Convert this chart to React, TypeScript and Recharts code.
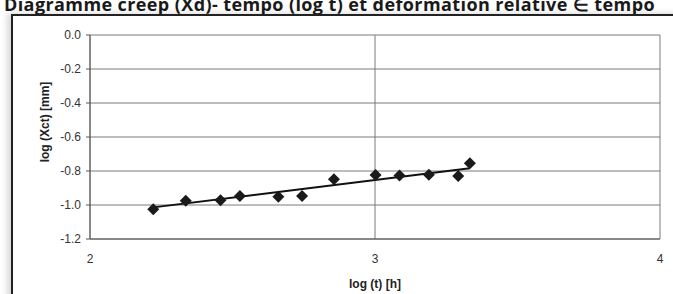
import React from "react";
import {
  ScatterChart,
  Scatter,
  XAxis,
  YAxis,
  CartesianGrid,
} from "recharts";

// measured points: log(t) [h] vs log(Xct) [mm]
const logT = [2.222, 2.336, 2.458, 2.526, 2.661, 2.744, 2.856, 3.002, 3.086, 3.189, 3.292, 3.333];
const logX = [-1.025, -0.975, -0.972, -0.947, -0.951, -0.947, -0.849, -0.824, -0.827, -0.822, -0.829, -0.755];

// trend line end points
const trendT = [2.222, 3.333];
const trendX = [-1.014, -0.784];

const xTicks = [2, 3, 4];
const yTicks = [-1.2, -1.0, -0.8, -0.6, -0.4, -0.2, 0.0];

const points = logT.map((t, i) => ({ t, x: logX[i] }));
const trend = trendT.map((t, i) => ({ t, x: trendX[i] }));

const Diamond = (props: any) => {
  const { cx, cy } = props;
  const r = 6;
  return (
    <polygon
      points={`${cx},${cy - r} ${cx + r},${cy} ${cx},${cy + r} ${cx - r},${cy}`}
      fill="#1a1a1a"
    />
  );
};

const NoDot = () => <g />;

const YLabel = () => (
  <text
    x={46}
    y={122}
    transform="rotate(-90 46 122)"
    textAnchor="middle"
    dominantBaseline="middle"
    fontSize={12}
    fontWeight="bold"
    fill="#222"
  >
    log (Xct) [mm]
  </text>
);

const App: React.FC = () => {
  return (
    <div
      style={{
        position: "absolute",
        left: 0,
        top: 0,
        width: 673,
        height: 294,
        overflow: "hidden",
        background: "#fff",
        fontFamily: "'Liberation Sans', Arial, sans-serif",
      }}
    >
      <div
        style={{
          position: "absolute",
          left: 4,
          top: -8,
          whiteSpace: "nowrap",
          fontFamily: "'Open Sans', sans-serif",
          fontWeight: "bold",
          fontSize: 18,
          letterSpacing: 0.4,
          color: "#1a1a1a",
        }}
      >
        Diagramme creep (Xd)- tempo (log t) et deformation relative ∈ tempo
      </div>
      <div
        style={{
          position: "absolute",
          left: 11,
          top: 14,
          width: 700,
          height: 300,
          borderLeft: "2px solid #222",
          borderTop: "2px solid #222",
          boxShadow: "-4px -1px 6px rgba(0,0,0,0.15)",
        }}
      />
      <div style={{ position: "absolute", left: 0, top: 0 }}>
        <ScatterChart
          width={673}
          height={294}
          margin={{ top: 35, right: 13, bottom: 0, left: 0 }}
        >
          <CartesianGrid stroke="#7a7a7a" strokeWidth={1} />
          <XAxis
            type="number"
            dataKey="t"
            domain={[2, 4]}
            ticks={xTicks}
            allowDataOverflow
            height={55}
            tickSize={0}
            tickMargin={15}
            axisLine={{ stroke: "#555" }}
            tick={{ fill: "#333", fontSize: 12 }}
            label={{
              value: "log (t) [h]",
              position: "insideBottom",
              offset: 6,
              fill: "#222",
              fontSize: 12,
              fontWeight: "bold",
            }}
          />
          <YAxis
            type="number"
            dataKey="x"
            domain={[-1.2, 0]}
            ticks={yTicks}
            allowDataOverflow
            width={90}
            tickSize={4}
            tickMargin={5}
            axisLine={{ stroke: "#555" }}
            tickLine={{ stroke: "#555" }}
            tick={{ fill: "#333", fontSize: 12 }}
            tickFormatter={(v: number) => v.toFixed(1)}
            label={<YLabel />}
          />
          <Scatter
            data={trend}
            line={{ stroke: "#111", strokeWidth: 2 }}
            shape={NoDot}
            isAnimationActive={false}
          />
          <Scatter data={points} shape={Diamond} isAnimationActive={false} />
        </ScatterChart>
      </div>
    </div>
  );
};

export default App;
